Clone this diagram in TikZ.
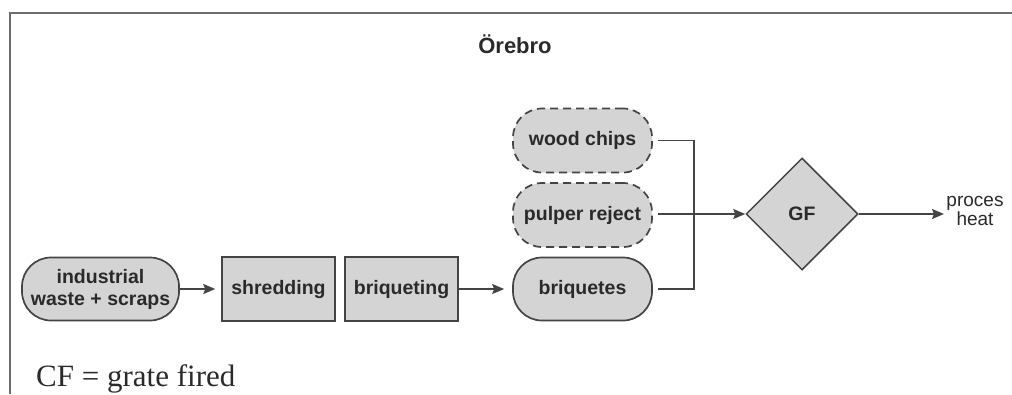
\documentclass[tikz,border=0pt]{standalone}
\usepackage{fontspec}
\setmainfont{Liberation Sans}
\newfontfamily\serifcap{Liberation Serif}
\usetikzlibrary{shapes.geometric,arrows.meta}
\definecolor{boxfill}{HTML}{D4D4D4}
\definecolor{edge}{HTML}{444444}
\definecolor{ink}{HTML}{2A2A2A}
\tikzset{
  x=1pt, y=-1pt,
  every node/.style={text=ink},
  lbl/.style={font=\fontsize{19.5}{23}\selectfont\bfseries, align=center},
  pill/.style={lbl, draw=edge, fill=boxfill, line width=1.7pt, rounded corners=29pt,
    minimum width=139pt, minimum height=63pt, inner sep=0pt},
  optpill/.style={pill, dash pattern=on 8pt off 5pt},
  stepbox/.style={lbl, draw=edge, fill=boxfill, line width=1.5pt,
    minimum width=113pt, minimum height=64pt, inner sep=0pt},
  combust/.style={lbl, diamond, draw=edge, fill=boxfill, line width=1.5pt,
    minimum width=112pt, minimum height=112pt, inner sep=0pt},
  flow/.style={draw=edge, line width=1.7pt},
  arr/.style={flow, -{Stealth[length=12pt,width=10pt,inset=2pt]}},
}
\begin{document}
\begin{tikzpicture}
\useasboundingbox (0,0) rectangle (1012,394);
% frame: top rule and left rule
\draw[draw=gray!85!black, line width=1.8pt] (10,394) -- (10,13) -- (1012,13);

\node[font=\fontsize{22}{26}\selectfont\bfseries] (title) at (515,44) {Örebro};

% feed chain
\node[pill, minimum width=157pt] (waste) at (100.5,289) {industrial\\[-1pt]waste + scraps};
\node[stepbox] (shred) at (278.5,289) {shredding};
\node[stepbox] (briqing) at (401.5,289) {briqueting};
\node[pill] (briq) at (582.5,289) {briquetes};

% additional fuels
\node[optpill, minimum height=64pt] (wood) at (582.5,140.5) {wood chips};
\node[optpill, minimum height=64pt] (pulp) at (582.5,215) {pulper reject};

% boiler and output
\node[combust] (gf) at (802,214) {GF};
\node[font=\fontsize{19}{19}\selectfont, align=center] (heat) at (975,211) {proces\\heat};
\coordinate (heatin) at (944,214);
\coordinate (bus) at (694,140.5);

\draw[arr] (waste.east) -- ([xshift=-6pt]shred.west);
\draw[arr] (briqing.east) -- ([xshift=-8pt]briq.west);
\draw[flow] ([xshift=5pt]wood.east) -- (bus) |- ([xshift=5pt]briq.east);
\draw[arr] ([xshift=5pt]pulp.east |- gf.west) -- (gf.west);
\draw[arr] (gf.east) -- (heatin);

\node[font=\serifcap\fontsize{31}{33}\selectfont, anchor=base west, inner sep=0pt] (legend) at (36,386) {CF = grate fired};
\end{tikzpicture}
\end{document}
